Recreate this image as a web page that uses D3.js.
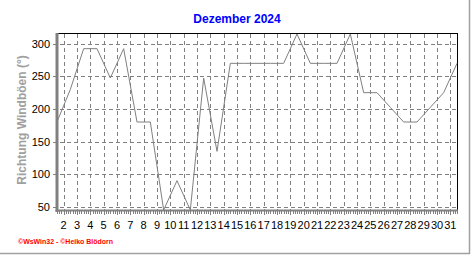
<!DOCTYPE html>
<head>
<meta charset="utf-8">
<title>Dezember 2024</title>
<style>
body { margin: 0; background: #fff; }
svg { display: block; }
.grid line { stroke: #808080; stroke-width: 1px; stroke-dasharray: 4,3; shape-rendering: crispEdges; }
.kurve { fill: none; stroke: #808080; stroke-width: 1px; }
.ticklabel { font: 11px "Liberation Sans", Arial, sans-serif; fill: #000; }
.titel { font: bold 12px "Liberation Sans", Arial, sans-serif; fill: #0000ff; }
.ytitel { font: bold 12px "Liberation Sans", Arial, sans-serif; fill: #a0a0a0; }
.fuss { font: bold 8px "Liberation Sans", Arial, sans-serif; fill: #ff0000; }
</style>
</head>
<body>
<script src="https://cdn.jsdelivr.net/npm/d3@7"></script>
<script>

// Tage im Dezember und Richtung der Windböen (Grad)
var tage = d3.range(1, 32);
var richtung = [180, 230, 292.5, 292.5, 247.5, 292.5, 180, 180, 45, 90,
                45, 247.5, 135, 270, 270, 270, 270, 270, 315, 270,
                270, 270, 315, 225, 225, 202.5, 180, 180, 202.5, 225, 270];
var yTicks = [50, 100, 150, 200, 250, 300];
var xTicks = d3.range(2, 32);

var width = 472,
    height = 255;

var x = d3.scaleLinear().domain([1.5, 31.5]).range([57, 457]);
var y = d3.scaleLinear().domain([45, 315]).range([210, 34]);

var svg = d3.select("body").append("svg")
    .attr("width", width)
    .attr("height", height);

// Rahmen rechts und unten
svg.append("line").attr("x1", 469.5).attr("x2", 469.5).attr("y1", 0).attr("y2", 254)
    .attr("stroke", "#a0a0a0").attr("stroke-width", 1.5);
svg.append("line").attr("x1", 0).attr("x2", 470).attr("y1", 253.5).attr("y2", 253.5)
    .attr("stroke", "#a0a0a0").attr("stroke-width", 1.5);

svg.append("text").attr("class", "titel")
    .attr("x", 237).attr("y", 23)
    .attr("text-anchor", "middle")
    .text("Dezember 2024");

// Gitter
var grid = svg.append("g").attr("class", "grid");
grid.selectAll(".v").data(xTicks).enter().append("line")
    .attr("x1", function(d) { return Math.round(x(d)) + 0.5; })
    .attr("x2", function(d) { return Math.round(x(d)) + 0.5; })
    .attr("y1", y.range()[1]).attr("y2", y.range()[0]);
grid.selectAll(".h").data(yTicks).enter().append("line")
    .attr("x1", x.range()[0] - 4).attr("x2", x.range()[1])
    .attr("y1", function(d) { return Math.round(y(d)) + 0.5; })
    .attr("y2", function(d) { return Math.round(y(d)) + 0.5; });

// obere und rechte Linie schwarz
svg.append("line").attr("x1", 57).attr("x2", 457.5).attr("y1", 33.5).attr("y2", 33.5)
    .attr("stroke", "#000").attr("stroke-width", 1);
svg.append("line").attr("x1", 457.5).attr("x2", 457.5).attr("y1", 33).attr("y2", 211)
    .attr("stroke", "#000").attr("stroke-width", 1);

// Kurve
var line = d3.line()
    .x(function(d, i) { return x(tage[i] + 0.5); })
    .y(function(d) { return y(d); });

svg.append("path").datum(richtung)
    .attr("class", "kurve")
    .attr("d", line);

// kleine Striche an der x-Achse (alle 4 Stunden)
var minor = d3.range(0, 181).map(function(i) { return 1.5 + i / 6; });
svg.append("g").selectAll("line").data(minor).enter().append("line")
    .attr("x1", function(d) { return Math.round(x(d)) + 0.5; })
    .attr("x2", function(d) { return Math.round(x(d)) + 0.5; })
    .attr("y1", 211)
    .attr("y2", function(d) { return Math.abs(d - Math.round(d)) < 0.01 ? 215 : 214; })
    .attr("stroke", "#808080").attr("stroke-width", 1);

// Achsen grau
svg.append("line").attr("x1", 57).attr("x2", 57).attr("y1", 33).attr("y2", 212)
    .attr("stroke", "#808080").attr("stroke-width", 3);
svg.append("line").attr("x1", 55.5).attr("x2", 458).attr("y1", 210.5).attr("y2", 210.5)
    .attr("stroke", "#808080").attr("stroke-width", 2);

svg.append("g").selectAll("text").data(yTicks).enter().append("text")
    .attr("class", "ticklabel")
    .attr("x", 50)
    .attr("y", function(d) { return y(d) + 4; })
    .attr("text-anchor", "end")
    .text(function(d) { return d; });

svg.append("g").selectAll("text").data(xTicks).enter().append("text")
    .attr("class", "ticklabel")
    .attr("x", function(d) { return x(d); })
    .attr("y", 229)
    .attr("text-anchor", "middle")
    .text(function(d) { return d; });

svg.append("text").attr("class", "ytitel")
    .attr("transform", "translate(26,120) rotate(-90)")
    .attr("text-anchor", "middle")
    .text("Richtung Windböen (°)");

svg.append("text").attr("class", "fuss")
    .attr("x", 18).attr("y", 243.5)
    .attr("textLength", 95).attr("lengthAdjust", "spacingAndGlyphs")
    .text("©WsWin32 - ©Heiko Blödorn");

</script>
</body>
</html>
